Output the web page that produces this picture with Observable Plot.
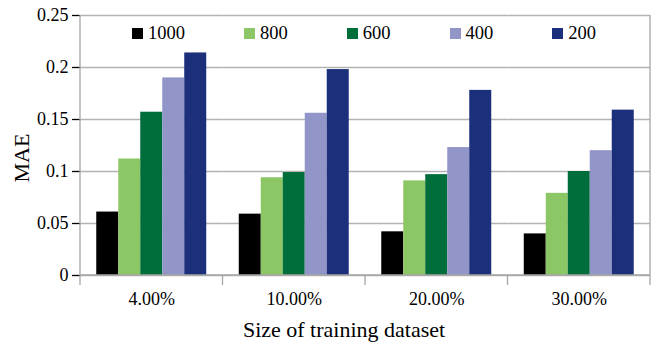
<!DOCTYPE html>
<html>
<head>
<meta charset="utf-8">
<script src="https://cdn.jsdelivr.net/npm/d3@7"></script>
<script src="https://cdn.jsdelivr.net/npm/@observablehq/plot@0.6"></script>
<style>
  html, body { margin: 0; padding: 0; background: #fff; }
  #wrap { position: relative; width: 664px; height: 348px; font-family: "Liberation Serif", serif; }
  #legend { position: absolute; left: 132px; top: 24px; display: flex; align-items: center; font-family: "Liberation Serif", serif; font-size: 18.5px; line-height: 18px; color: #000; }
  #legend .item { display: flex; align-items: center; margin-right: 59px; }
  #legend .item span { font-family: "Liberation Serif", serif; }
  #legend .sw { width: 11px; height: 11px; margin-right: 5px; }
</style>
</head>
<body>
<div id="wrap"><div id="legend"></div></div>
<script>
const categories = ["4.00%", "10.00%", "20.00%", "30.00%"];
const series = ["1000", "800", "600", "400", "200"];
const s1000 = [0.061, 0.059, 0.042, 0.040];
const s800  = [0.112, 0.094, 0.091, 0.079];
const s600  = [0.157, 0.099, 0.097, 0.100];
const s400  = [0.190, 0.156, 0.123, 0.120];
const s200  = [0.214, 0.198, 0.178, 0.159];
const colors = ["#000000", "#8cc766", "#006e3b", "#9195c8", "#1b2f7b"];
const yTicks = [0, 0.05, 0.1, 0.15, 0.2, 0.25];
const yLabel = "MAE";
const xLabel = "Size of training dataset";

const valuesBySeries = [s1000, s800, s600, s400, s200];
const rows = [];
categories.forEach((c, i) => series.forEach((s, j) => rows.push({cat: c, series: s, value: valuesBySeries[j][i]})));

const W = 664, H = 348;
const plot = Plot.plot({
  width: W, height: H,
  marginLeft: 80, marginRight: 14, marginTop: 15, marginBottom: 73,
  style: {fontFamily: "Liberation Serif", fontSize: "18px", color: "#000", background: "#fff"},
  facet: {data: rows, x: "cat"},
  fx: {domain: categories, padding: 0, round: false, axis: "bottom", tickSize: 0, tickPadding: 17, label: null},
  x: {domain: series, paddingInner: 0, paddingOuter: 0.739, round: false, axis: null},
  y: {domain: [0, 0.25], ticks: yTicks, tickFormat: d => String(+d.toFixed(2)), tickSize: 8, tickPadding: 4, label: null},
  color: {domain: series, range: colors},
  marks: [
    Plot.ruleY(yTicks, {stroke: "#b3b3b3", strokeWidth: 1.3}),
    Plot.barY(rows, {x: "series", y: "value", fill: "series"})
  ]
});

const wrap = document.getElementById("wrap");
wrap.insertBefore(plot, wrap.firstChild);

const svg = d3.select(plot);
svg.selectAll('[aria-label="y-axis tick"]').attr("stroke", "#a6a6a6").attr("stroke-width", 1.3);
svg.selectAll('[aria-label="y-axis"] .tick line').attr("stroke", "#a6a6a6");
svg.selectAll('[aria-label="y-axis"] .domain').remove();
svg.selectAll('[aria-label="fx-axis"] .domain').remove();

const fx = plot.scale("fx"), y = plot.scale("y");
const bw = fx.bandwidth;
const y0 = y.apply(0), yTop = y.apply(yTicks[yTicks.length - 1]);
const xl = fx.apply(categories[0]);
const xr = fx.apply(categories[categories.length - 1]) + bw;
const g = svg.append("g").attr("stroke", "#a6a6a6").attr("stroke-width", 1.3);
g.append("line").attr("x1", xl).attr("x2", xl).attr("y1", yTop).attr("y2", y0);
g.append("line").attr("x1", xr).attr("x2", xr).attr("y1", yTop).attr("y2", y0);
g.append("line").attr("x1", xl).attr("x2", xr).attr("y1", y0).attr("y2", y0);
const bounds = categories.map(c => fx.apply(c)).concat([xr]);
bounds.forEach(b => g.append("line").attr("x1", b).attr("x2", b).attr("y1", y0).attr("y2", y0 + 10));

svg.append("text").text(xLabel).attr("x", (xl + xr) / 2 - 21).attr("y", 337)
  .attr("text-anchor", "middle").attr("font-size", 22).attr("font-family", "Liberation Serif").attr("fill", "#000");
svg.append("text").text(yLabel).attr("transform", "translate(29,158) rotate(-90)")
  .attr("text-anchor", "middle").attr("font-size", 22).attr("font-family", "Liberation Serif").attr("fill", "#000");

const legend = d3.select("#legend");
series.forEach((s, i) => {
  const it = legend.append("div").attr("class", "item");
  it.append("div").attr("class", "sw").style("background", colors[i]);
  it.append("span").text(s);
});
</script>
</body>
</html>
